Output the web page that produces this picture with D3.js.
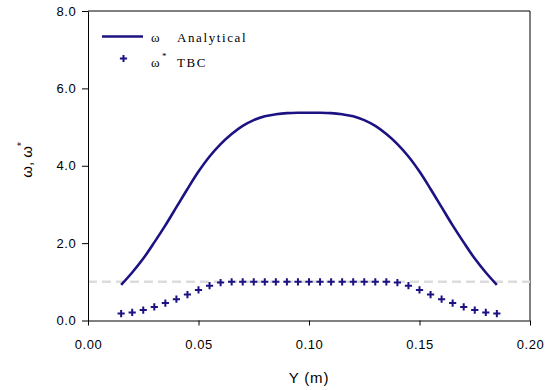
<!DOCTYPE html>
<html><head><meta charset="utf-8">
<script src="https://cdn.jsdelivr.net/npm/d3@7"></script>
<style>body{margin:0;background:#fff}svg{display:block}</style>
</head><body>
<svg id="c" width="552" height="390"></svg>
<script>
const yPos = [0.015,0.020,0.025,0.030,0.035,0.040,0.045,0.050,0.055,0.060,0.065,0.070,0.075,0.080,0.085,0.090,0.095,0.100,0.105,0.110,0.115,0.120,0.125,0.130,0.135,0.140,0.145,0.150,0.155,0.160,0.165,0.170,0.175,0.180,0.185];
const analytical = [0.92,1.24,1.60,2.02,2.46,2.93,3.40,3.85,4.24,4.56,4.82,5.03,5.18,5.28,5.33,5.36,5.37,5.37,5.37,5.36,5.33,5.28,5.18,5.03,4.82,4.56,4.24,3.85,3.40,2.93,2.46,2.02,1.60,1.24,0.92];
const tbc = [0.18,0.21,0.27,0.35,0.45,0.55,0.67,0.79,0.90,0.98,1.0,1.0,1.0,1.0,1.0,1.0,1.0,1.0,1.0,1.0,1.0,1.0,1.0,1.0,1.0,0.98,0.90,0.79,0.67,0.55,0.45,0.35,0.27,0.21,0.18];
const refLine = 1.0;
const xTicks = [0,0.05,0.10,0.15,0.20];
const yTicks = [0,2,4,6,8];

const svg = d3.select('#c');
const L=88, R=530, T=11, B=320.5;
const x = d3.scaleLinear().domain([0,0.2]).range([L,R]);
const y = d3.scaleLinear().domain([0,8]).range([B,T]);
const col = '#1c1282';

// frame
svg.append('path').attr('d',`M${L},${T}H${R}V${B}`).attr('fill','none').attr('stroke','#000').attr('stroke-width',1);

// reference dashed line
svg.append('line').attr('x1',L).attr('x2',R).attr('y1',y(refLine)).attr('y2',y(refLine))
  .attr('stroke','#dcdcdc').attr('stroke-width',2.5).attr('stroke-dasharray','9,5');

const xa = svg.append('g').attr('transform',`translate(0,${B})`)
  .call(d3.axisBottom(x).tickValues(xTicks).tickFormat(d3.format('.2f')).tickSize(5).tickSizeOuter(0));
const ya = svg.append('g').attr('transform',`translate(${L},0)`)
  .call(d3.axisLeft(y).tickValues(yTicks).tickFormat(d3.format('.1f')).tickSize(6).tickSizeOuter(0));
[xa,ya].forEach(a=>{
  a.select('.domain').attr('stroke','#000');
  a.selectAll('line').attr('stroke','#000');
  a.selectAll('text').attr('font-family','Liberation Sans, Arial, sans-serif').attr('font-size',13).attr('fill','#000').attr('letter-spacing',0.6);
});
xa.selectAll('text').attr('dy','1.55em');
ya.selectAll('text').attr('dx','-0.2em');

// analytical line
svg.append('path').datum(yPos.map((v,i)=>[v,analytical[i]]))
  .attr('d',d3.line().x(d=>x(d[0])).y(d=>y(d[1])).curve(d3.curveCatmullRom))
  .attr('fill','none').attr('stroke',col).attr('stroke-width',2.6);

// TBC plus markers
function drawPlus(g,cx,cy){
  g.append('path').attr('d',`M${cx-3.6},${cy}H${cx+3.6}M${cx},${cy-3.6}V${cy+3.6}`)
   .attr('stroke',col).attr('stroke-width',2).attr('fill','none');
}
const mg = svg.append('g');
yPos.forEach((v,i)=>drawPlus(mg,x(v),y(tbc[i])));

// legend
svg.append('line').attr('x1',102).attr('x2',143).attr('y1',36.5).attr('y2',36.5).attr('stroke',col).attr('stroke-width',2.6);
drawPlus(svg,123.5,58.5);
const lf='Liberation Serif, Times New Roman, serif';
svg.append('text').attr('x',151).attr('y',42).attr('font-family',lf).attr('font-size',13).attr('fill','#000').text('ω');
svg.append('text').attr('x',177).attr('y',42).attr('font-family',lf).attr('font-size',13).attr('letter-spacing',1.6).attr('fill','#000').text('Analytical');
svg.append('text').attr('x',151).attr('y',66.5).attr('font-family',lf).attr('font-size',13).attr('fill','#000').text('ω');
svg.append('text').attr('x',162).attr('y',59).attr('font-family',lf).attr('font-size',9).attr('fill','#000').text('*');
svg.append('text').attr('x',177).attr('y',66.5).attr('font-family',lf).attr('font-size',13).attr('letter-spacing',1.6).attr('fill','#000').text('TBC');

// axis titles
svg.append('text').attr('x',x(0.1)).attr('y',383).attr('text-anchor','middle')
  .attr('font-family','Liberation Sans, Arial, sans-serif').attr('font-size',15).attr('letter-spacing',0.8).text('Y (m)');
const yt = svg.append('text').attr('transform','translate(32,160) rotate(-90)').attr('text-anchor','middle')
  .attr('font-family','Liberation Sans, Arial, sans-serif').attr('font-size',15);
yt.append('tspan').text('ω, ω');
yt.append('tspan').attr('dy',-7).attr('font-size',10).text('*');
</script>
</body></html>
